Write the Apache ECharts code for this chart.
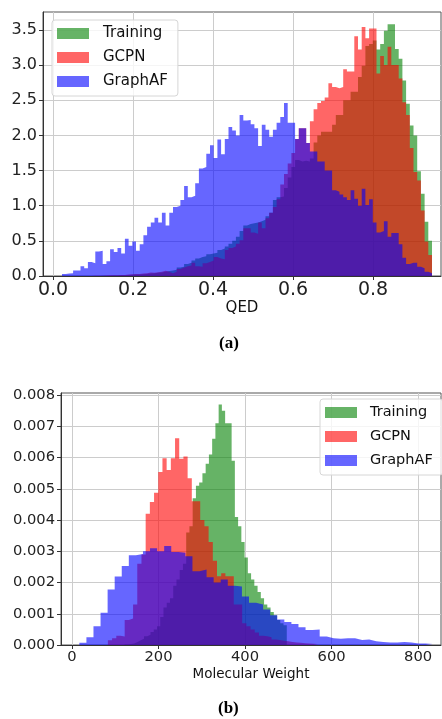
<!DOCTYPE html>
<html>
<head>
<meta charset="utf-8">
<script src="https://cdn.jsdelivr.net/npm/echarts@6/dist/echarts.min.js"></script>
<style>
  html, body { margin: 0; padding: 0; background: #fff; }
  #chart { width: 442px; height: 719px; }
</style>
</head>
<body>
<div id="chart"></div>
<script>
// (a) QED — 100 shared bins
var qedBinStart = 0.0225
var qedBinWidth = 0.00925
var qedTraining = [
  0, 0, 0, 0, 0, 0, 0, 0, 0, 0,
  0.002, 0.003, 0.005, 0.006, 0.008, 0.01, 0.012, 0.015, 0.017, 0.02,
  0.022, 0.025, 0.03, 0.034, 0.04, 0.045, 0.05, 0.06, 0.07, 0.08,
  0.09, 0.12, 0.13, 0.17, 0.19, 0.22, 0.25, 0.27, 0.28, 0.31,
  0.32, 0.33, 0.37, 0.39, 0.42, 0.46, 0.5, 0.56, 0.64, 0.72,
  0.74, 0.75, 0.76, 0.78, 0.80, 0.85, 0.9, 1.08, 1.12, 1.13,
  1.25, 1.4, 1.55, 1.65, 1.63, 1.64, 1.63, 1.67, 1.9, 2.0,
  2.05, 2.05, 2.05, 2.15, 2.29, 2.29, 2.5, 2.5, 2.62, 2.62,
  2.83, 2.99, 3.27, 3.3, 3.35, 3.22, 3.3, 3.49, 3.58, 3.58,
  3.23, 3.09, 2.78, 2.45, 2.14, 2.0, 1.49, 1.17, 0.77, 0.5
]
var qedGCPN = [
  0, 0, 0, 0, 0, 0, 0, 0, 0.002, 0.003,
  0.005, 0.008, 0.01, 0.01, 0.012, 0.014, 0.016, 0.02, 0.025, 0.03,
  0.028, 0.035, 0.04, 0.05, 0.045, 0.055, 0.06, 0.075, 0.06, 0.04,
  0.06, 0.1, 0.12, 0.14, 0.15, 0.19, 0.14, 0.13, 0.18, 0.2,
  0.22, 0.27, 0.25, 0.24, 0.37, 0.4, 0.42, 0.46, 0.51, 0.68,
  0.68, 0.62, 0.6, 0.76, 0.68, 0.82, 0.9, 0.98, 1.09, 1.3,
  1.45, 1.6, 1.75, 1.95, 2.1, 2.1, 1.89, 2.2, 2.37, 2.46,
  2.49, 2.54, 2.74, 2.69, 2.67, 2.69, 2.94, 2.91, 2.91, 3.41,
  3.22, 3.54, 3.38, 3.52, 3.52, 2.88, 3.13, 3.0, 3.26, 3.0,
  3.0, 2.81, 2.47, 2.29, 1.82, 1.48, 1.36, 0.93, 0.49, 0.3
]
var qedGraphAF = [
  0.03, 0.035, 0.04, 0.08, 0.08, 0.14, 0.11, 0.2, 0.18, 0.35,
  0.36, 0.17, 0.21, 0.38, 0.34, 0.40, 0.32, 0.53, 0.43, 0.49,
  0.36, 0.45, 0.58, 0.70, 0.76, 0.83, 0.76, 0.90, 0.72, 0.90,
  0.98, 1.0, 1.08, 1.28, 1.12, 1.14, 1.32, 1.53, 1.55, 1.74,
  1.86, 1.68, 1.94, 1.73, 1.95, 2.12, 2.07, 2.0, 2.29, 2.21,
  2.22, 2.16, 2.10, 1.85, 2.15, 2.08, 1.98, 2.08, 2.18, 2.26,
  2.46, 2.18, 2.18, 1.95, 2.1, 2.1, 1.89, 1.77, 1.77, 1.63,
  1.63, 1.5, 1.5, 1.22, 1.2, 1.16, 1.12, 1.08, 1.22, 1.1,
  1.0, 1.24, 1.01, 1.09, 0.76, 0.62, 0.64, 0.78, 0.56, 0.61,
  0.61, 0.45, 0.26, 0.17, 0.19, 0.19, 0.13, 0.11, 0.06, 0.04
]
var qedTicksX = [0, 0.2, 0.4, 0.6, 0.8]
var qedTicksY = [0, 0.5, 1, 1.5, 2, 2.5, 3, 3.5]

// (b) Molecular weight — every run has its own 50 bins
var mwTrainingStart = 121.5
var mwTrainingWidth = 7.5
var mwTraining = [
  0.00002, 0.00003, 0.00005, 0.0001, 0.00015, 0.0002, 0.00028, 0.00033, 0.00042, 0.0005,
  0.0006, 0.0009, 0.0012, 0.00135, 0.0015, 0.0019, 0.0021, 0.0024, 0.0026, 0.0036,
  0.0038, 0.0047, 0.0051, 0.0052, 0.0055, 0.0058, 0.0061, 0.0066, 0.0071, 0.0077,
  0.0075, 0.0071, 0.0071, 0.0059, 0.0041, 0.0038, 0.0033, 0.0028, 0.0023, 0.0021,
  0.0019, 0.0017, 0.0015, 0.0013, 0.0012, 0.00106, 0.00095, 0.0008, 0.0007, 0.00063
]
var mwGCPNStart = 83
var mwGCPNWidth = 9.7
var mwGCPN = [
  0.00015, 0.00022, 0.0003, 0.00027, 0.0008, 0.00085, 0.0013, 0.0026, 0.0029, 0.0042,
  0.00458, 0.00487, 0.00554, 0.00598, 0.0056, 0.00598, 0.00662, 0.00596, 0.00603, 0.00534,
  0.0046, 0.0046, 0.004, 0.0038, 0.0033, 0.0027, 0.0022, 0.0023, 0.0022, 0.0022,
  0.0013, 0.0013, 0.0007, 0.0006, 0.0005, 0.0004, 0.0003, 0.00028, 0.00025, 0.00018,
  0.00016, 0.00014, 0.00012, 0.0001, 0.00008, 0.00007, 0.00006, 0.00005, 0.00004, 0.00003
]
var mwGraphAFStart = 17
var mwGraphAFWidth = 16.34
var mwGraphAF = [
  0.00007, 0.00025, 0.0006, 0.00103, 0.00178, 0.00219, 0.00253, 0.00287, 0.00291, 0.003,
  0.0031, 0.003, 0.00317, 0.00298, 0.00295, 0.00284, 0.00236, 0.00242, 0.00217, 0.002,
  0.0021, 0.0019, 0.00187, 0.00155, 0.00135, 0.0013, 0.00114, 0.00095, 0.00082, 0.00074,
  0.00067, 0.00057, 0.00048, 0.0005, 0.00027, 0.00022, 0.0002, 0.00022, 0.00022, 0.00016,
  0.00018, 0.00012, 0.0001, 0.00008, 0.00008, 0.0001, 0.00008, 0.00005, 0.00005, 0.00003
]
var mwTicksX = [0, 200, 400, 600, 800]
var mwTicksY = [0, 0.001, 0.002, 0.003, 0.004, 0.005, 0.006, 0.007, 0.008]

var names = ['Training', 'GCPN', 'GraphAF']
var colors = ['rgba(0,128,0,0.6)', 'rgba(255,0,0,0.6)', 'rgba(0,0,255,0.6)']
var font = 'DejaVu Sans'

// bin edges + heights -> step points (last height repeated at right edge)
function steps(start, width, values) {
  var pts = []
  for (var i = 0; i < values.length; i++) {
    pts.push([start + i * width, values[i]])
  }
  pts.push([start + values.length * width, values[values.length - 1]])
  return pts
}

function hist(idx, axis, start, width, values) {
  return {
    name: names[idx],
    type: 'line',
    step: 'end',
    xAxisIndex: axis,
    yAxisIndex: axis,
    data: steps(start, width, values),
    symbol: 'none',
    color: colors[idx],
    lineStyle: { width: 0 },
    areaStyle: { color: colors[idx], opacity: 1 },
    silent: true,
    animation: false
  }
}

function xAxis(grid, min, max, ticks, fmt, size, name, nameSize, nameGap) {
  return {
    type: 'value', gridIndex: grid, min: min, max: max,
    name: name, nameLocation: 'middle', nameGap: nameGap,
    nameTextStyle: { fontFamily: font, fontSize: nameSize, color: '#111' },
    axisLine: { show: true, onZero: false, lineStyle: { color: '#333', width: 1 } },
    axisTick: { show: true, inside: false, length: 4, customValues: ticks, lineStyle: { color: '#333' } },
    axisLabel: { customValues: ticks, formatter: fmt, fontFamily: font, fontSize: size, color: '#222', margin: 5 },
    splitLine: { show: true, lineStyle: { color: '#cccccc', width: 1 } }
  }
}

function yAxis(grid, max, ticks, fmt, size) {
  return {
    type: 'value', gridIndex: grid, min: 0, max: max,
    axisLine: { show: true, onZero: false, lineStyle: { color: '#333', width: 1 } },
    axisTick: { show: true, inside: false, length: 4, customValues: ticks, lineStyle: { color: '#333' } },
    axisLabel: { customValues: ticks, formatter: fmt, fontFamily: font, fontSize: size, color: '#222', margin: 6 },
    splitLine: { show: true, lineStyle: { color: '#cccccc', width: 1 } }
  }
}

function legend(left, top, size, gap) {
  return {
    left: left, top: top, orient: 'vertical',
    data: names, icon: 'rect',
    itemWidth: 32, itemHeight: 11, itemGap: 9,
    itemStyle: { borderWidth: 0 },
    padding: [6, 10, 7, 5],
    backgroundColor: 'rgba(255,255,255,0.8)',
    borderColor: '#d6d6d6', borderWidth: 1, borderRadius: 3,
    selectedMode: false,
    textStyle: { fontFamily: font, fontSize: size, color: '#111', padding: [0, 0, 0, gap] }
  }
}

var chart = echarts.init(document.getElementById('chart'), null, { renderer: 'canvas' })
var option = {
  backgroundColor: '#fff',
  animation: false,
  grid: [
    { left: 43, top: 12, width: 398, height: 264, show: true, borderColor: '#555', borderWidth: 1, backgroundColor: 'transparent' },
    { left: 61, top: 393, width: 380, height: 252, show: true, borderColor: '#555', borderWidth: 1, backgroundColor: 'transparent' }
  ],
  xAxis: [
    xAxis(0, -0.025, 0.97, qedTicksX, function (v) { return v.toFixed(1) }, 19, 'QED', 15, 24),
    xAxis(1, -25.4, 853, mwTicksX, function (v) { return String(Math.round(v)) }, 14.7, 'Molecular Weight', 13.5, 22)
  ],
  yAxis: [
    yAxis(0, 3.755, qedTicksY, function (v) { return v.toFixed(1) }, 16),
    yAxis(1, 0.008064, mwTicksY, function (v) { return v.toFixed(3) }, 14.7)
  ],
  legend: [
    legend(52, 20, 15, 9),
    legend(320, 399, 14.5, 8)
  ],
  series: [
    hist(0, 0, qedBinStart, qedBinWidth, qedTraining),
    hist(1, 0, qedBinStart, qedBinWidth, qedGCPN),
    hist(2, 0, qedBinStart, qedBinWidth, qedGraphAF),
    hist(0, 1, mwTrainingStart, mwTrainingWidth, mwTraining),
    hist(1, 1, mwGCPNStart, mwGCPNWidth, mwGCPN),
    hist(2, 1, mwGraphAFStart, mwGraphAFWidth, mwGraphAF)
  ],
  graphic: [
    { type: 'text', left: 219, top: 335, style: { text: '(a)', font: 'bold 17px "Liberation Serif"', fill: '#000' } },
    { type: 'text', left: 218, top: 700, style: { text: '(b)', font: 'bold 17px "Liberation Serif"', fill: '#000' } }
  ]
}
chart.setOption(option)
</script>
</body>
</html>
